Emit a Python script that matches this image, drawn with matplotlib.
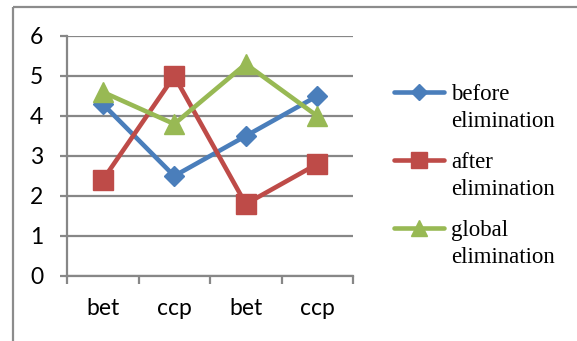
import matplotlib.pyplot as plt
from matplotlib.patches import Rectangle

# category labels along the x axis
categories = ["bet", "ccp", "bet", "ccp"]

# one value per category for each series
before_elim = [4.3, 2.5, 3.5, 4.5]
after_elim = [2.4, 5.0, 1.8, 2.8]
global_elim = [4.6, 3.8, 5.3, 4.0]

series_labels = ["before elimination", "after elimination", "global elimination"]
series_values = [before_elim, after_elim, global_elim]
series_colors = ["#4A7EBB", "#BE4B48", "#98B954"]
series_markers = ["D", "s", "^"]
marker_sizes = [10.5, 14, 15]

W, H = 577, 341
fig = plt.figure(figsize=(W / 100, H / 100), dpi=100)

# plot area placed in pixel units
ax = fig.add_axes([67 / W, 1 - 276 / H, (353 - 67) / W, (276 - 36) / H])
x = list(range(len(categories)))

for vals, col, mk, ms in zip(series_values, series_colors, series_markers, marker_sizes):
    ax.plot(x, vals, color=col, lw=3.3, marker=mk, ms=ms, mec=col, mfc=col,
            solid_capstyle="round", solid_joinstyle="round", zorder=3)

grid_col = "#878787"
ax.set_xlim(-0.5, len(categories) - 0.5)
ax.set_ylim(0, 6)
ax.set_yticks(range(0, 7))
ax.yaxis.grid(True, color=grid_col, lw=1.6)
ax.set_axisbelow(True)

for side in ["top", "right"]:
    ax.spines[side].set_visible(False)
for side in ["left", "bottom"]:
    ax.spines[side].set_color(grid_col)
    ax.spines[side].set_linewidth(1.6)

# category names centred, tick marks on the category boundaries
ax.set_xticks([i - 0.5 for i in range(len(categories) + 1)])
ax.set_xticklabels([])
ax.set_xticks(x, minor=True)
ax.set_xticklabels(categories, minor=True)
ax.tick_params(axis="x", which="major", length=5.5, width=1.6, color=grid_col)
ax.tick_params(axis="x", which="minor", length=0, pad=16)
ax.tick_params(axis="y", length=5, width=1.6, color=grid_col, pad=12)
for lbl in ax.get_xticklabels(minor=True) + ax.get_yticklabels():
    lbl.set_fontfamily("Lato")
    lbl.set_fontsize(16.5)

# overlay in pixel coordinates for the outer frame and legend
ov = fig.add_axes([0, 0, 1, 1], facecolor="none")
ov.set_xlim(0, W)
ov.set_ylim(H, 0)
ov.axis("off")
ov.add_patch(Rectangle((12.5, 6.5), W + 10, H + 10, fill=False,
                       ec="#8C8C8C", lw=1.6))

legend_top = 92
legend_step = 68
for i, (lab, col, mk, ms) in enumerate(zip(series_labels, series_colors,
                                            series_markers, marker_sizes)):
    y = legend_top + i * legend_step
    ov.plot([394, 444], [y, y], color=col, lw=3.3, solid_capstyle="round")
    ov.plot([419], [y], color=col, marker=mk, ms=ms * 0.8, mec=col)
    first, second = lab.split(" ", 1)
    ov.text(451, y + 8, first, family="Liberation Serif", fontsize=16.5,
            va="baseline", ha="left")
    ov.text(451, y + 35, second, family="Liberation Serif", fontsize=16.5,
            va="baseline", ha="left")

fig.savefig("out.png", dpi=100)
